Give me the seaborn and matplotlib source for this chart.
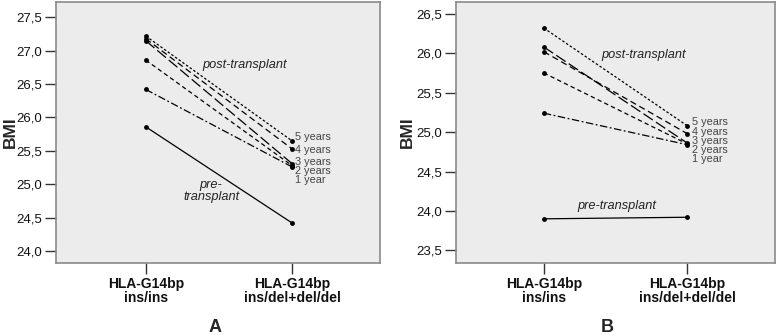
import numpy as np
import pandas as pd
import matplotlib
matplotlib.use("Agg")
import matplotlib.pyplot as plt
import seaborn as sns
from matplotlib.ticker import FuncFormatter, MultipleLocator

sns.set_theme(style="white")
plt.rcParams['font.family'] = ['Liberation Sans', 'DejaVu Sans']

categories = ["HLA-G14bp\nins/ins", "HLA-G14bp\nins/del+del/del"]
series = ["pre", "1 year", "2 years", "3 years", "4 years", "5 years"]

# Panel A values (ins/ins, ins/del+del/del)
a_pre = [25.86, 24.42]
a_1y = [26.42, 25.26]
a_2y = [26.86, 25.28]
a_3y = [27.15, 25.31]
a_4y = [27.18, 25.53]
a_5y = [27.22, 25.65]

# Panel B values
b_pre = [23.90, 23.92]
b_1y = [25.24, 24.84]
b_2y = [25.75, 24.85]
b_3y = [26.08, 24.86]
b_4y = [26.02, 24.98]
b_5y = [26.32, 25.08]

year_labels = ["5 years", "4 years", "3 years", "2 years", "1 year"]


def make_df(vals):
    rows = []
    for s, v in zip(series, vals):
        for c, y in zip(categories, v):
            rows.append({"group": c, "series": s, "BMI": y})
    return pd.DataFrame(rows)


dfA = make_df([a_pre, a_1y, a_2y, a_3y, a_4y, a_5y])
dfB = make_df([b_pre, b_1y, b_2y, b_3y, b_4y, b_5y])

dashes = {
    "pre": "",
    "1 year": (6, 2, 1.5, 2),
    "2 years": (3.5, 2.5),
    "3 years": (9, 3),
    "4 years": (5, 3),
    "5 years": (2, 1.6),
}

fig = plt.figure(figsize=(7.78, 3.35), dpi=100)
axA = fig.add_axes([0.072, 0.215, 0.417, 0.779])
axB = fig.add_axes([0.586, 0.215, 0.410, 0.779])

comma = FuncFormatter(lambda v, p: f"{v:.1f}".replace(".", ","))


def draw(ax, df, ylim, xlim, panel, panel_x, ylab_x, lab_x, lab_ys, post_xy, pre_xy, pre_text):
    sns.lineplot(data=df, x="group", y="BMI", style="series", dashes=dashes,
                 markers={s: "o" for s in series}, color="black", linewidth=0.9,
                 markersize=3.5, markeredgewidth=0, legend=False, ax=ax,
                 sort=False)
    ax.set_facecolor("#ececec")
    for sp in ax.spines.values():
        sp.set_color("#8a8a8a")
        sp.set_linewidth(1.2)
    ax.set_ylim(*ylim)
    ax.set_xlim(*xlim)
    ax.yaxis.set_major_locator(MultipleLocator(0.5))
    ax.yaxis.set_major_formatter(comma)
    ax.tick_params(axis="both", which="major", direction="out", length=8,
                   width=1, color="#333333", left=True, bottom=True,
                   labelsize=9.5, labelcolor="#111111", pad=2)
    ax.set_xticks([0, 1])
    ax.set_xticklabels(categories, fontweight="bold", fontsize=10, linespacing=1.05)
    ax.set_xlabel("")
    ax.set_ylabel("BMI", fontweight="bold", fontsize=12.5)
    ax.yaxis.set_label_coords(ylab_x, 0.5)
    fig.text(panel_x, 1 - 327 / 335, panel, fontweight="bold", fontsize=13,
             ha="center", va="center")
    for t, yy in zip(year_labels, lab_ys):
        ax.text(lab_x, yy, t, fontsize=7.8, color="#444444", va="center", ha="left")
    ax.text(post_xy[0], post_xy[1], "post-transplant", style="italic",
            fontsize=9.2, color="#222222", ha="center", va="center")
    ax.text(pre_xy[0], pre_xy[1], pre_text, style="italic", fontsize=9.2,
            color="#222222", ha="center", va="center", linespacing=1.05)


draw(axA, dfA, (23.82, 27.73), (-0.614, 1.605), "A", 215 / 778, -0.118, 1.02,
     [25.70, 25.52, 25.33, 25.20, 25.07], (0.673, 26.785), (0.447, 24.895),
     "pre-\ntransplant")
draw(axB, dfB, (23.34, 26.65), (-0.612, 1.61), "B", 607 / 778, -0.128, 1.03,
     [25.13, 25.00, 24.89, 24.77, 24.66], (0.694, 25.98), (0.511, 24.06),
     "pre-transplant")

fig.savefig("out.png", dpi=100, facecolor="white")
